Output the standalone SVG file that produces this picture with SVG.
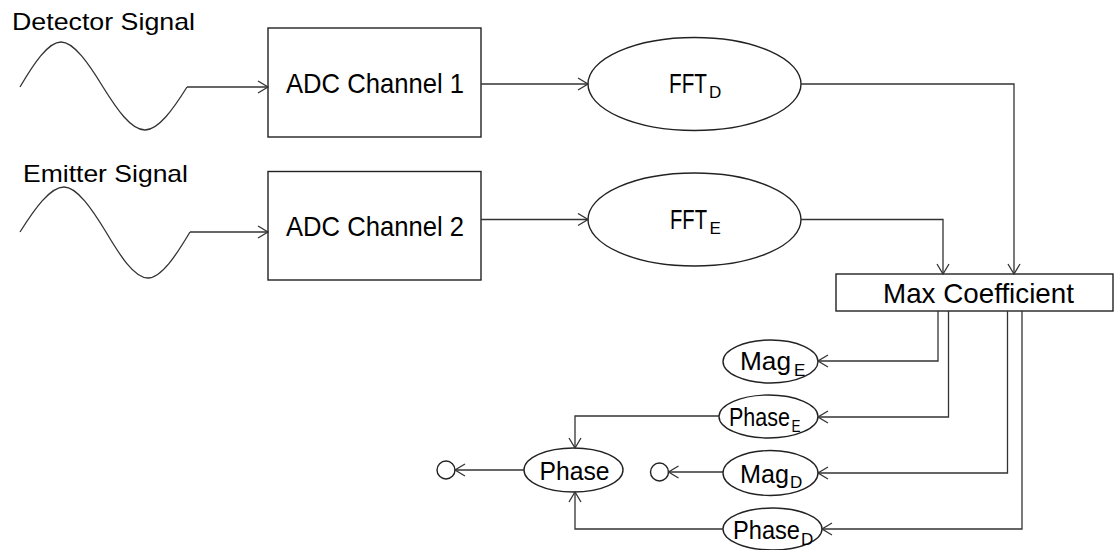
<svg xmlns="http://www.w3.org/2000/svg" width="1115" height="550" viewBox="0 0 1115 550">
<defs>
<style>
.shape{fill:#fff;stroke:#222;stroke-width:1.4}
.wire{fill:none;stroke:#333;stroke-width:1.3}
.lbl{font-family:"Liberation Sans",Arial,sans-serif;fill:#000}
.big{font-size:28px}
.mid{font-size:26px}
.sig{font-size:24px}
.sub{font-size:17px}
</style>
<marker id="arr" markerUnits="userSpaceOnUse" markerWidth="14" markerHeight="16" refX="11" refY="7" orient="auto">
<path d="M1,1 L11,7 L1,13" fill="none" stroke="#333" stroke-width="1.3"/>
</marker>
</defs>
<rect width="1115" height="550" fill="#fff"/>

<g id="detector-signal">
<text class="lbl sig" x="12" y="30" textLength="183" lengthAdjust="spacingAndGlyphs">Detector Signal</text>
<path class="wire" d="M20,87 C33.5,64 48,42 61,42 C74,42 89,64 103,87 C116.7,109 131,130 145,130 C158.4,130 173.3,109 187,87"/>
</g>
<g id="emitter-signal">
<text class="lbl sig" x="23" y="182" textLength="165" lengthAdjust="spacingAndGlyphs">Emitter Signal</text>
<path class="wire" d="M20,232 C34.5,209 50,187 64,187 C77,187 92,209 106,232 C119.7,255 134,278 148,278 C161.4,278 176.3,255 190,232"/>
</g>

<g id="adc1">
<rect class="shape" x="268" y="28" width="213" height="109"/>
<text class="lbl big" x="286" y="93" textLength="178" lengthAdjust="spacingAndGlyphs">ADC Channel 1</text>
</g>
<g id="adc2">
<rect class="shape" x="268" y="171.5" width="213" height="108.5"/>
<text class="lbl big" x="286" y="236" textLength="178" lengthAdjust="spacingAndGlyphs">ADC Channel 2</text>
</g>

<g id="fft-d">
<ellipse class="shape" cx="694.5" cy="84" rx="106.5" ry="46.5"/>
<text class="lbl big" x="669" y="93.3"><tspan textLength="38" lengthAdjust="spacingAndGlyphs">FFT</tspan><tspan class="sub" dx="2" dy="4.2">D</tspan></text>
</g>
<g id="fft-e">
<ellipse class="shape" cx="694.5" cy="219.5" rx="106.5" ry="46.5"/>
<text class="lbl big" x="670" y="229.3"><tspan textLength="37" lengthAdjust="spacingAndGlyphs">FFT</tspan><tspan class="sub" dx="2.5" dy="4.2">E</tspan></text>
</g>

<g id="max-coefficient">
<rect class="shape" x="836" y="274" width="277" height="37"/>
<text class="lbl big" x="883" y="303" textLength="191" lengthAdjust="spacingAndGlyphs">Max Coefficient</text>
</g>

<g id="mag-e">
<ellipse class="shape" cx="770.5" cy="361.5" rx="47.5" ry="21.5"/>
<text class="lbl mid" x="740" y="370"><tspan textLength="51" lengthAdjust="spacingAndGlyphs">Mag</tspan><tspan class="sub" dx="3" dy="6">E</tspan></text>
</g>
<g id="phase-e">
<ellipse class="shape" cx="768.5" cy="416.5" rx="49.5" ry="21.5"/>
<text class="lbl mid" x="729" y="426"><tspan textLength="61" lengthAdjust="spacingAndGlyphs">Phase</tspan><tspan class="sub" dx="1.5" dy="6" textLength="9" lengthAdjust="spacingAndGlyphs">E</tspan></text>
</g>
<g id="phase">
<ellipse class="shape" cx="573.5" cy="470" rx="49.5" ry="22"/>
<text class="lbl mid" x="539.5" y="480" textLength="70" lengthAdjust="spacingAndGlyphs">Phase</text>
</g>
<g id="mag-d">
<ellipse class="shape" cx="770.5" cy="473" rx="47.5" ry="22.5"/>
<text class="lbl mid" x="740" y="482.5"><tspan textLength="49" lengthAdjust="spacingAndGlyphs">Mag</tspan><tspan class="sub" dx="1" dy="5">D</tspan></text>
</g>
<g id="phase-d">
<ellipse class="shape" cx="772.5" cy="529" rx="49.5" ry="21"/>
<text class="lbl mid" x="733" y="539"><tspan textLength="67" lengthAdjust="spacingAndGlyphs">Phase</tspan><tspan class="sub" dx="1" dy="6">D</tspan></text>
</g>

<g id="sink-1">
<circle class="shape" cx="446" cy="470" r="9"/>
</g>
<g id="sink-2">
<circle class="shape" cx="659.5" cy="472" r="9"/>
</g>

<g id="connectors">
<path class="wire" d="M187,87 H268" marker-end="url(#arr)"/>
<path class="wire" d="M190,232 H268" marker-end="url(#arr)"/>
<path class="wire" d="M481,84 H588" marker-end="url(#arr)"/>
<path class="wire" d="M481,219.5 H588" marker-end="url(#arr)"/>
<path class="wire" d="M801,84 H1014 V274" marker-end="url(#arr)"/>
<path class="wire" d="M801,219.5 H943 V274" marker-end="url(#arr)"/>
<path class="wire" d="M938,311 V361 H818" marker-end="url(#arr)"/>
<path class="wire" d="M948.5,311 V417 H818" marker-end="url(#arr)"/>
<path class="wire" d="M1007.5,311 V473 H818" marker-end="url(#arr)"/>
<path class="wire" d="M1022,311 V529 H822" marker-end="url(#arr)"/>
<path class="wire" d="M719,416 H575 V448" marker-end="url(#arr)"/>
<path class="wire" d="M723,529 H575 V492" marker-end="url(#arr)"/>
<path class="wire" d="M524,470 H455" marker-end="url(#arr)"/>
<path class="wire" d="M723,472 H668.5" marker-end="url(#arr)"/>
</g>
</svg>
